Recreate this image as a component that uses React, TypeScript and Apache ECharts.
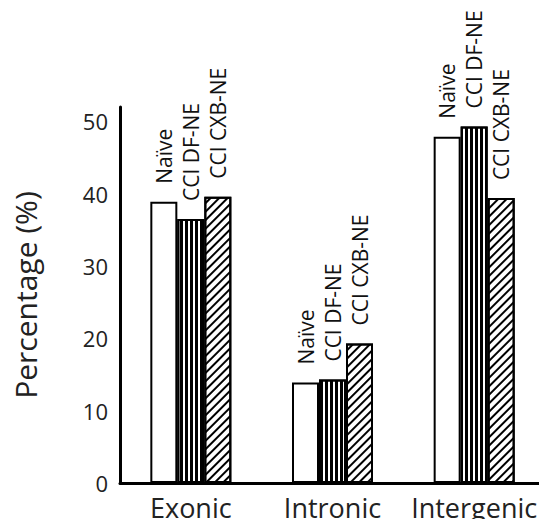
import React, { useEffect, useRef } from "react";
import * as echarts from "echarts";

const categories = ["Exonic", "Intronic", "Intergenic"];
const seriesNames = ["Naïve", "CCI DF-NE", "CCI CXB-NE"];
const naive = [38.9, 13.9, 47.9];
const dfne = [36.5, 14.3, 49.3];
const cxbne = [39.6, 19.3, 39.4];
const yTicks = [0, 10, 20, 30, 40, 50];

export default function App() {
  const ref = useRef<HTMLDivElement>(null);
  useEffect(() => {
    if (!ref.current) return;
    const chart = echarts.init(ref.current, undefined, { renderer: "svg" });
    const font = "'Open Sans', 'Noto Sans', sans-serif";
    const label = (name: string) => ({
      show: true,
      position: "top",
      rotate: 90,
      align: "left",
      verticalAlign: "middle",
      distance: 18,
      formatter: name,
      fontFamily: font,
      fontSize: 21,
      color: "#111",
    });
    const decals: any[] = [
      undefined,
      {
        symbol: "rect",
        symbolSize: 1,
        dashArrayX: [3, 2],
        dashArrayY: [1, 0],
        rotation: 0,
        color: "#000",
        backgroundColor: "#fff",
      },
      {
        symbol: "rect",
        symbolSize: 1,
        dashArrayX: [1, 0],
        dashArrayY: [1.5, 4],
        rotation: -Math.PI / 4,
        color: "#000",
        backgroundColor: "#fff",
      },
    ];
    const data = [naive, dfne, cxbne];
    chart.setOption({
      animation: false,
      grid: { left: 120, right: 2, top: 107, bottom: 44 },
      xAxis: {
        type: "category",
        data: categories,
        axisLine: { lineStyle: { color: "#000", width: 3 } },
        axisTick: { show: false },
        axisLabel: {
          interval: 0,
          fontFamily: font,
          fontSize: 27,
          color: "#222",
          margin: 11,
        },
      },
      yAxis: {
        type: "value",
        min: 0,
        max: 52,
        interval: 10,
        name: "Percentage (%)",
        nameLocation: "middle",
        nameGap: 80,
        nameTextStyle: { fontFamily: font, fontSize: 30, color: "#222" },
        axisLine: { show: true, lineStyle: { color: "#000", width: 3 } },
        axisTick: { show: false },
        splitLine: { show: false },
        axisLabel: {
          fontFamily: font,
          fontSize: 22,
          color: "#222",
          margin: 12,
          formatter: (v: number) => (yTicks.includes(v) ? String(v) : ""),
        },
      },
      series: seriesNames.map((n, i) => ({
        name: n,
        type: "bar",
        data: data[i],
        barWidth: 27,
        barGap: "0%",
        itemStyle: {
          color: "#fff",
          borderColor: "#000",
          borderWidth: 2,
          decal: decals[i],
        },
        label: label(n),
      })),
    });
    return () => chart.dispose();
  }, []);
  return <div ref={ref} style={{ width: 547, height: 527, margin: -8 }} />;
}
